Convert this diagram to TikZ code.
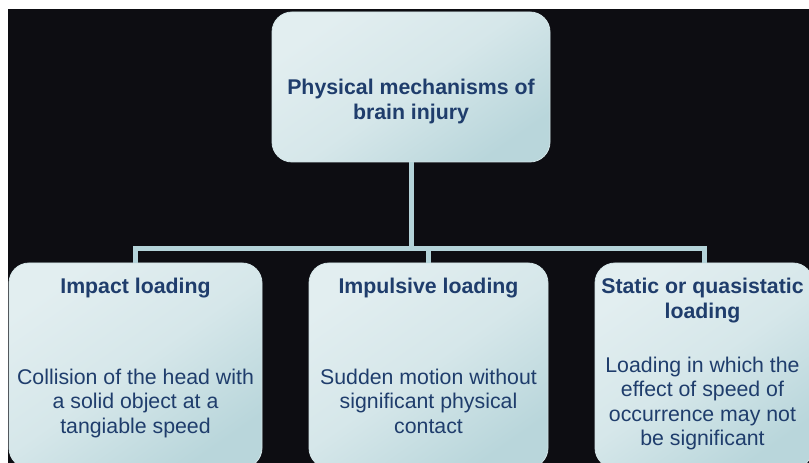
\documentclass[tikz,border=0pt]{standalone}
\usepackage{fontspec}
\setmainfont{Liberation Sans}
\usetikzlibrary{shapes, calc, positioning}

\definecolor{bgdark}{HTML}{0D0D12}
\definecolor{boxlight}{HTML}{E2EEF0}
\definecolor{boxdark}{HTML}{B9D6DB}
\definecolor{boxedge}{HTML}{D3E4E7}
\definecolor{linkcol}{HTML}{B4D3D9}
\definecolor{navy}{HTML}{1F3D6C}

\begin{document}
\begin{tikzpicture}[x=1pt, y=1pt,
    mechbox/.style={rectangle, rounded corners=20pt, draw=boxedge, line width=0.8pt,
        top color=boxlight, bottom color=boxdark, middle color=boxlight!70!boxdark,
        shading angle=35, inner sep=0pt},
    titletext/.style={inner sep=0pt, align=center, text=navy,
        font=\fontsize{21.3}{25}\selectfont\bfseries},
    bodytext/.style={inner sep=0pt, align=center, text=navy,
        font=\fontsize{21.3}{24.5}\selectfont},
    link/.style={draw=linkcol, line width=5pt, line join=miter}]

    \useasboundingbox (0,0) rectangle (809,463);
    \fill[bgdark] (8,0) rectangle (809,454);

    \node[mechbox, minimum width=278pt, minimum height=150pt] (mech) at (411,376) {};
    \node[titletext, below=67pt of mech.north] (mechtitle) {Physical mechanisms of\\brain injury};

    \begin{scope}[every node/.append style={minimum height=205pt}]
        \node[mechbox, minimum width=253pt] (impact) at (135.5,97.5) {};
        \node[mechbox, minimum width=239pt] (impulsive) at (428.5,97.5) {};
        \node[mechbox, minimum width=218pt] (static) at (704,97.5) {};
    \end{scope}

    \node[titletext, below=15pt of impact.north] (impacttitle) {Impact loading};
    \node[titletext, below=15pt of impulsive.north] (impulsivetitle) {Impulsive loading};
    \node[titletext, below=15pt of static.north, xshift=-1.5pt] (statictitle) {Static or quasistatic\\loading};

    \node[bodytext, below=106pt of impact.north] (impactbody) {Collision of the head with\\a solid object at a\\tangiable speed};
    \node[bodytext, below=106pt of impulsive.north] (impulsivebody) {Sudden motion without\\significant physical\\contact};
    \node[bodytext, below=94pt of static.north, xshift=-1.5pt] (staticbody) {Loading in which the\\effect of speed of\\occurrence may not\\be significant};

    \coordinate (bar) at (411,214);
    \draw[link] (mech.south) -- (bar);
    \draw[link] (impact.north) |- (bar) -| (static.north);
    \draw[link] (impulsive.north) -- (impulsive.north |- bar);

\end{tikzpicture}
\end{document}
